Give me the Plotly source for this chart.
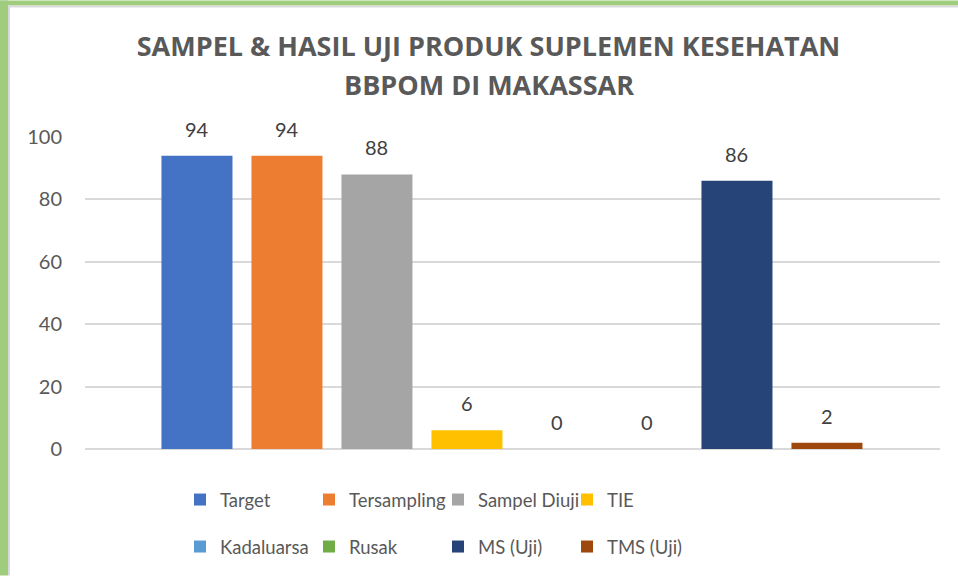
import plotly.graph_objects as go

series = ["Target", "Tersampling", "Sampel Diuji", "TIE", "Kadaluarsa", "Rusak", "MS (Uji)", "TMS (Uji)"]
values = [94, 94, 88, 6, 0, 0, 86, 2]
colors = ["#4472C4", "#ED7D31", "#A5A5A5", "#FFC000", "#5B9BD5", "#70AD47", "#264478", "#9E480E"]
title_lines = ["SAMPEL & HASIL UJI PRODUK SUPLEMEN KESEHATAN", "BBPOM DI MAKASSAR"]
y_ticks = [0, 20, 40, 60, 80, 100]

FONT = "Lato, Open Sans, sans-serif"
TFONT = "Open Sans, sans-serif"
W, H = 958, 577
L, R, T, B = 85, 18, 137, 127
pw, ph = W - L - R, H - T - B


def px_x(p):
    return (p - L) / pw


def px_y(p):
    return (H - B - p) / ph


fig = go.Figure()
annotations = []
for i, (name, v, c) in enumerate(zip(series, values, colors)):
    fig.add_trace(go.Bar(
        x=[name], y=[v], name=name, marker=dict(color=c, line=dict(width=0)),
        legend="legend" if i < 4 else "legend2",
    ))
    annotations.append(dict(
        x=name, y=v, xref="x", yref="y", text=str(v), showarrow=False,
        yanchor="bottom", yshift=13,
        font=dict(family=FONT, size=20, color="#404040"),
    ))

annotations.append(dict(
    text=title_lines[1], xref="paper", yref="paper", x=px_x(489), y=px_y(84),
    xanchor="center", yanchor="middle", showarrow=False,
    font=dict(family=TFONT, size=27, color="#595959", weight="bold"),
))

shapes = [
    dict(type="rect", xref="paper", yref="paper", x0=px_x(0), x1=px_x(8), y0=px_y(H), y1=px_y(0),
         fillcolor="#A0CC7E", line=dict(width=0), layer="below"),
    dict(type="rect", xref="paper", yref="paper", x0=px_x(0), x1=px_x(W), y0=px_y(5), y1=px_y(0),
         fillcolor="#A0CC7E", line=dict(width=0), layer="below"),
    dict(type="rect", xref="paper", yref="paper", x0=px_x(8), x1=px_x(10), y0=px_y(H), y1=px_y(5),
         fillcolor="#D9D9D9", line=dict(width=0), layer="below"),
    dict(type="rect", xref="paper", yref="paper", x0=px_x(8), x1=px_x(W), y0=px_y(7), y1=px_y(5),
         fillcolor="#D9D9D9", line=dict(width=0), layer="below"),
]

legend_common = dict(orientation="h", xanchor="left", yanchor="top",
                     font=dict(family=FONT, size=18.5, color="#595959"),
                     entrywidth=84, entrywidthmode="pixels", traceorder="normal",
                     bgcolor="rgba(0,0,0,0)")

fig.update_layout(
    width=W, height=H,
    margin=dict(l=L, r=R, t=T, b=B),
    paper_bgcolor="white", plot_bgcolor="white",
    barmode="overlay", bargap=0.211,
    title=dict(text=title_lines[0], x=488.5 / W, xanchor="center", xref="container",
               y=1 - 47 / H, yanchor="middle", yref="container",
               font=dict(family=TFONT, size=27, color="#595959", weight="bold")),
    showlegend=True,
    legend=dict(x=px_x(180), y=px_y(481), **legend_common),
    legend2=dict(x=px_x(180), y=px_y(528), **legend_common),
    xaxis=dict(type="category", range=[-1.244, 8.256], showticklabels=False, showgrid=False,
               zeroline=False, showline=False, ticks=""),
    yaxis=dict(range=[0, 100], tickvals=y_ticks, showgrid=True, gridcolor="#D9D9D9", gridwidth=1.5,
               zeroline=True, zerolinecolor="#D9D9D9", zerolinewidth=1.5,
               ticks="", ticklabelstandoff=22,
               tickfont=dict(family=FONT, size=20, color="#595959"), showline=False),
    shapes=shapes,
    annotations=annotations,
)

fig.write_html("out.html", config={"displayModeBar": False},
               post_script="document.body.style.margin='0px';")
